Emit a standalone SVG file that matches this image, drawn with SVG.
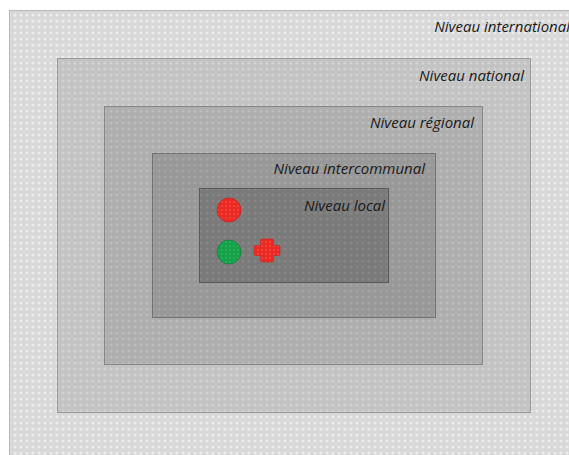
<svg xmlns="http://www.w3.org/2000/svg" width="569" height="455" viewBox="0 0 569 455">
<style>
.lbl{font-family:"Open Sans","Liberation Sans",sans-serif;font-style:italic;font-size:15px;fill:#1a1a1a;text-anchor:end}
.box{stroke-width:1}
</style>
<defs>
<pattern id="p1" width="6" height="6" patternUnits="userSpaceOnUse"><rect width="6" height="6" fill="#d8d8d8"/><circle cx="3" cy="3" r="1.6" fill="#ececec"/></pattern>
<pattern id="p2" width="6" height="6" patternUnits="userSpaceOnUse"><rect width="6" height="6" fill="#c3c3c3"/><circle cx="3" cy="3" r="1.6" fill="#d2d2d2"/></pattern>
<pattern id="p3" width="6" height="6" patternUnits="userSpaceOnUse"><rect width="6" height="6" fill="#aeaeae"/><circle cx="3" cy="3" r="1.6" fill="#bcbcbc"/></pattern>
<pattern id="p4" width="6" height="6" patternUnits="userSpaceOnUse"><rect width="6" height="6" fill="#989898"/><circle cx="3" cy="3" r="1.6" fill="#a4a4a4"/></pattern>
<pattern id="p5" width="6" height="6" patternUnits="userSpaceOnUse"><rect width="6" height="6" fill="#7a7a7a"/><circle cx="3" cy="3" r="1.6" fill="#868686"/></pattern>
<pattern id="pr" width="4" height="4" patternUnits="userSpaceOnUse"><rect width="4" height="4" fill="#ec2a24"/><circle cx="2" cy="2" r="0.9" fill="#f24a40"/></pattern>
<pattern id="pg" width="4" height="4" patternUnits="userSpaceOnUse"><rect width="4" height="4" fill="#17a24a"/><circle cx="2" cy="2" r="0.9" fill="#2cb25a"/></pattern>
</defs>
<rect width="569" height="455" fill="#ffffff"/>
<g id="international">
<rect class="box" x="9.5" y="10.5" width="570" height="450" fill="url(#p1)" stroke="#b8b8b8"/>
<text class="lbl" x="570" y="32">Niveau international</text>
</g>
<g id="national">
<rect class="box" x="57.5" y="58.5" width="473" height="354" fill="url(#p2)" stroke="#9a9a9a"/>
<text class="lbl" x="524" y="81">Niveau national</text>
</g>
<g id="regional">
<rect class="box" x="104.5" y="106.5" width="378" height="258" fill="url(#p3)" stroke="#868686"/>
<text class="lbl" x="474" y="128">Niveau régional</text>
</g>
<g id="intercommunal">
<rect class="box" x="152.5" y="153.5" width="283" height="164" fill="url(#p4)" stroke="#727272"/>
<text class="lbl" x="425" y="174">Niveau intercommunal</text>
</g>
<g id="local">
<rect class="box" x="199.5" y="188.5" width="189" height="94" fill="url(#p5)" stroke="#5a5a5a"/>
<text class="lbl" x="385" y="211">Niveau local</text>
</g>
<g id="red-circle"><circle cx="229" cy="210" r="12" fill="url(#pr)" stroke="#c82020" stroke-width="0.8"/></g>
<g id="green-circle"><circle cx="229" cy="252" r="12" fill="url(#pg)" stroke="#108038" stroke-width="0.8"/></g>
<g id="red-cross"><path d="M262,239 h10 a1.5,1.5 0 0 1 1.5,1.5 v5 h5 a1.5,1.5 0 0 1 1.5,1.5 v7 a1.5,1.5 0 0 1 -1.5,1.5 h-5 v5 a1.5,1.5 0 0 1 -1.5,1.5 h-10 a1.5,1.5 0 0 1 -1.5,-1.5 v-5 h-5 a1.5,1.5 0 0 1 -1.5,-1.5 v-7 a1.5,1.5 0 0 1 1.5,-1.5 h5 v-5 a1.5,1.5 0 0 1 1.5,-1.5 z" fill="url(#pr)" stroke="#c82020" stroke-width="0.6"/></g>
<g id="connectors"></g>
</svg>
